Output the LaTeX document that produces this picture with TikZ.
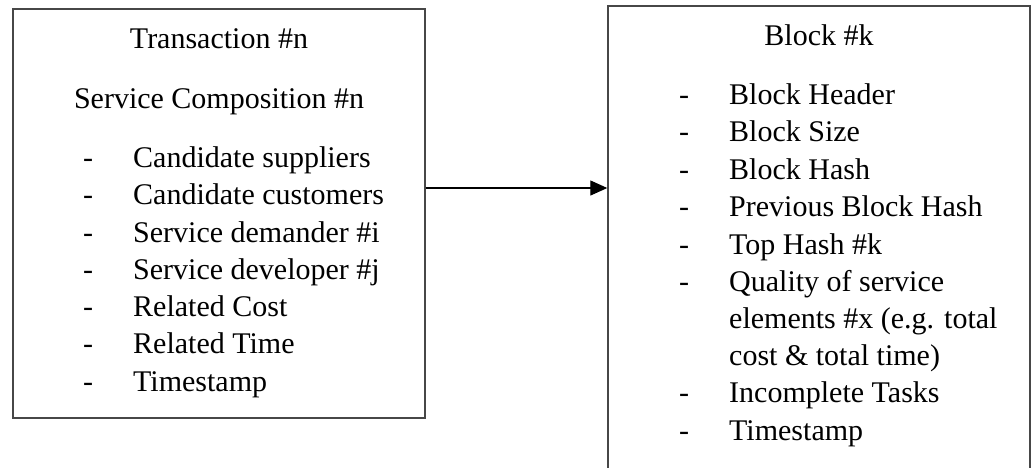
\documentclass[tikz,border=0pt]{standalone}
\usepackage{fontspec}
\setmainfont{Liberation Serif}
\usetikzlibrary{arrows.meta}
\tikzset{
  box/.style={draw=black!72, line width=1.4pt, inner sep=0pt},
  txt/.style={inner sep=0pt, anchor=base west, font=\fontsize{30}{36}\selectfont},
  ctxt/.style={inner sep=0pt, anchor=base, font=\fontsize{30}{36}\selectfont},
  link/.style={draw=black, line width=1.2pt, -{Triangle[length=17pt,width=15pt]}}
}
\begin{document}
\begin{tikzpicture}[x=1pt,y=-1pt]
\useasboundingbox (0,0) rectangle (1035,467);
\fill[white] (0,0) rectangle (1035,467);
% boxes
\node[box, minimum width=412pt, minimum height=409pt] (L) at (219,213.5) {};
\node[box, minimum width=422pt, minimum height=480pt] (R) at (819,246) {};
% left texts
\node[ctxt] (t1) at (219,48) {Transaction \#n};
\node[ctxt] (t2) at (219,108) {Service Composition \#n};
\foreach \y/\s [count=\i] in {167/Candidate suppliers,204.5/Candidate customers,242/Service demander \#i,279/Service developer \#j,316.5/Related Cost,353.5/Related Time,391/Timestamp}{
  \node[txt] (ld\i) at (83,\y) {-};
  \node[txt] (lt\i) at (133,\y) {\s};
}
% right texts
\node[ctxt] (b1) at (819,45) {Block \#k};
\foreach \y/\s [count=\i] in {104/Block Header,141.5/Block Size,179/Block Hash,216.5/Previous Block Hash,254/Top Hash \#k,291/Quality of service,402.5/Incomplete Tasks,440/Timestamp}{
  \node[txt] (rd\i) at (679,\y) {-};
}
\foreach \y/\s [count=\i] in {104/Block Header,141.5/Block Size,179/Block Hash,216.5/Previous Block Hash,254/Top Hash \#k,291/Quality of service,328.5/elements \#x (e.g. total,365.5/cost \& total time),402.5/Incomplete Tasks,440/Timestamp}{
  \node[txt] (rt\i) at (729,\y) {\s};
}
% connector
\coordinate (ay) at (0,188);
\draw[link] (L.east |- ay) -- (R.west |- ay);
\end{tikzpicture}
\end{document}
